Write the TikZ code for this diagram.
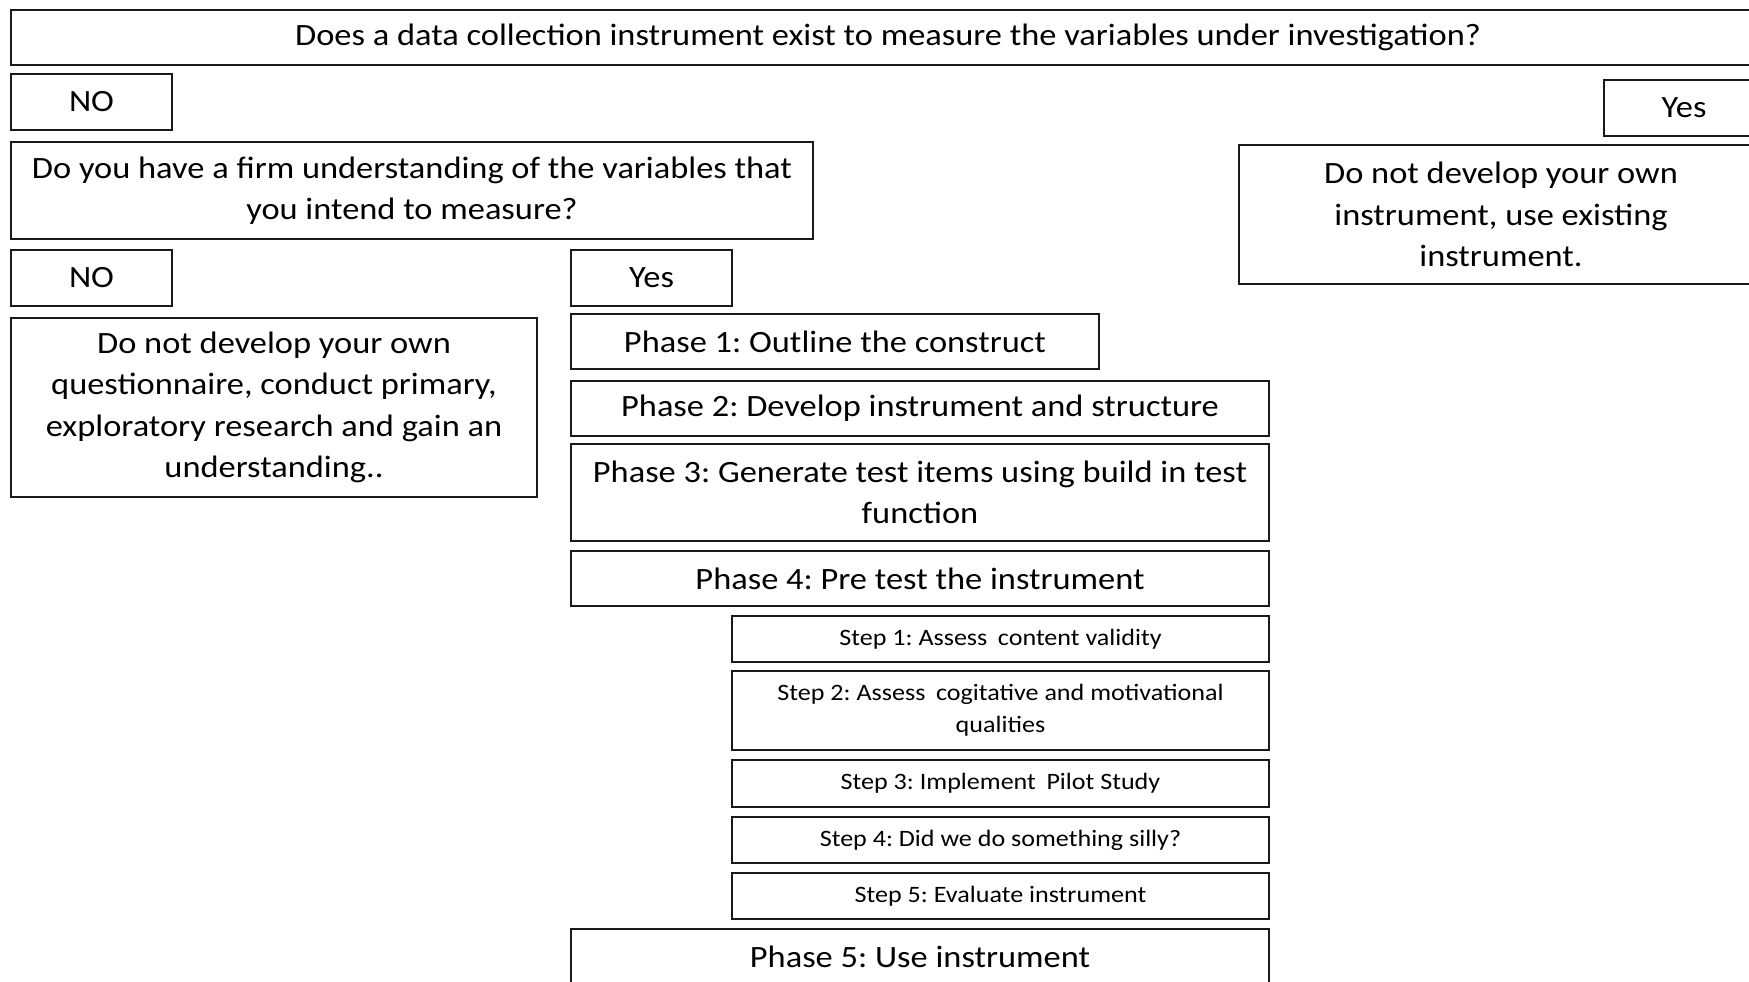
\documentclass[tikz,border=0pt]{standalone}
\usepackage{fontspec}
\setmainfont{Carlito}[FakeStretch=1.11]
\begin{document}
\frenchspacing
\begin{tikzpicture}[x=1pt,y=-1pt,
  box/.style={draw=black!90, line width=2.5pt, rectangle, inner sep=0pt,
    align=center, font=\fontsize{31}{41.5}\selectfont},
  stepbox/.style={box, font=\fontsize{23.5}{32}\selectfont}]
\useasboundingbox (0,0) rectangle (1749,982);
\clip (0,0) rectangle (1749,982);
% question and first answers
\node[box, minimum width=1754pt, minimum height=55pt] (q1) at (888,37.5)
  {Does a data collection instrument exist to measure the variables under investigation?};
\node[box, minimum width=161pt, minimum height=56pt] (no1) at (91.5,102) {NO};
\node[box, minimum width=160pt, minimum height=56pt] (yes1) at (1684,108) {Yes};
\node[box, minimum width=802pt, minimum height=97pt] (q2) at (412,190.5)
  {Do you have a firm understanding of the variables that\\you intend to measure?};
\node[box, minimum width=524pt, minimum height=139pt] (use) at (1501,214.5)
  {Do not develop your own\\instrument, use existing\\instrument.};
\node[box, minimum width=161pt, minimum height=56pt] (no2) at (91.5,278) {NO};
\node[box, minimum width=161pt, minimum height=56pt] (yes2) at (651.5,278) {Yes};
\node[box, minimum width=526pt, minimum height=179pt] (explore) at (274,407.5)
  {Do not develop your own\\questionnaire, conduct primary,\\exploratory research and gain an\\understanding..};
% phases
\node[box, minimum width=528pt, minimum height=55pt] (p1) at (835,341.5) {Phase 1: Outline the construct};
\node[box, minimum width=698pt, minimum height=55pt] (p2) at (920,408.5) {Phase 2: Develop instrument and structure};
\node[box, minimum width=698pt, minimum height=97pt] (p3) at (920,492.5)
  {Phase 3: Generate test items using build in test\\function};
\node[box, minimum width=698pt, minimum height=55pt] (p4) at (920,578.5) {Phase 4: Pre test the instrument};
% steps of the pre test
\node[stepbox, minimum width=537pt, minimum height=46pt] (s1) at (1000.5,639) {Step 1: Assess\hspace{0.45em}content validity};
\node[stepbox, minimum width=537pt, minimum height=79pt] (s2) at (1000.5,710.5)
  {Step 2: Assess\hspace{0.45em}cogitative and motivational\\qualities};
\node[stepbox, minimum width=537pt, minimum height=47pt] (s3) at (1000.5,783.5) {Step 3: Implement\hspace{0.45em}Pilot Study};
\node[stepbox, minimum width=537pt, minimum height=46pt] (s4) at (1000.5,840) {Step 4: Did we do something silly?};
\node[stepbox, minimum width=537pt, minimum height=46pt] (s5) at (1000.5,896) {Step 5: Evaluate instrument};
\node[box, minimum width=698pt, minimum height=55pt] (p5) at (920,956.5) {Phase 5: Use instrument};
\end{tikzpicture}
\end{document}
